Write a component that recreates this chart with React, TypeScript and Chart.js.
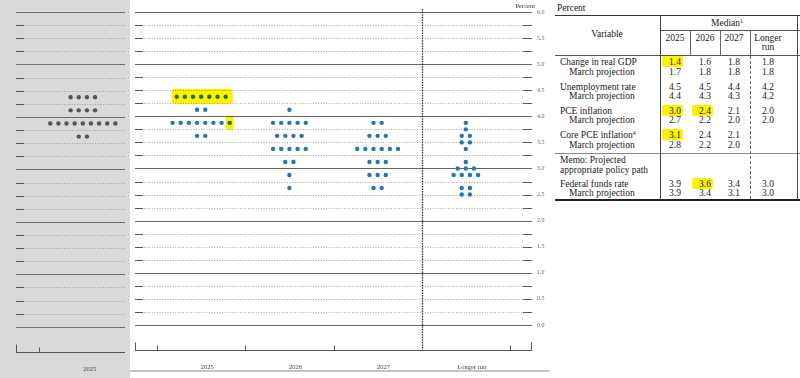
import React, { useEffect, useRef } from 'react';
import { Chart, registerables } from 'chart.js';

Chart.register(...registerables);

// ---------- Dot plot data (midpoint of target range, number of participants) ----------
const categories = ['2025', '2026', '2027', 'Longer run'];
const levels2025 = [4.375, 4.125, 3.875, 3.625];
const counts2025 = [7, 2, 8, 2];
const levels2026 = [4.125, 3.875, 3.625, 3.375, 3.125, 2.875, 2.625];
const counts2026 = [1, 5, 4, 5, 2, 1, 1];
const levels2027 = [3.875, 3.625, 3.375, 3.125, 2.875, 2.625];
const counts2027 = [2, 3, 6, 3, 3, 2];
const levelsLonger = [3.875, 3.75, 3.625, 3.5, 3.375, 3.125, 3.0, 2.875, 2.625, 2.5];
const countsLonger = [1, 1, 2, 2, 1, 1, 3, 4, 2, 2];

// March projection panel (left, greyed)
const marchCategories = ['2025'];
const levelsMarch2025 = [4.375, 4.125, 3.875, 3.625];
const countsMarch2025 = [4, 4, 9, 2];

// Highlighted dots: category, level, first and last dot index in that row
const dotHighlights = [
  { cat: 0, level: 4.375, first: 0, last: 6 },
  { cat: 0, level: 3.875, first: 7, last: 7 },
];

// ---------- Table data ----------
const tableColumns = ['2025', '2026', '2027'];
const gdpMedian = ['1.4', '1.6', '1.8', '1.8'];
const gdpMarch = ['1.7', '1.8', '1.8', '1.8'];
const unempMedian = ['4.5', '4.5', '4.4', '4.2'];
const unempMarch = ['4.4', '4.3', '4.3', '4.2'];
const pceMedian = ['3.0', '2.4', '2.1', '2.0'];
const pceMarch = ['2.7', '2.2', '2.0', '2.0'];
const corePceMedian = ['3.1', '2.4', '2.1', ''];
const corePceMarch = ['2.8', '2.2', '2.0', ''];
const fedMedian = ['3.9', '3.6', '3.4', '3.0'];
const fedMarch = ['3.9', '3.4', '3.1', '3.0'];
const variableNames = ['Change in real GDP', 'Unemployment rate', 'PCE inflation', 'Core PCE inflation', 'Federal funds rate'];
const variableSups = ['', '', '', '4', ''];
const tableHighlights = [
  { row: 0, col: 0 },
  { row: 2, col: 0 },
  { row: 2, col: 1 },
  { row: 3, col: 0 },
  { row: 4, col: 1 },
];

// ---------- style constants ----------
const DOT_SPACING = 0.0926;
const SERIF = '"Liberation Serif", "DejaVu Serif", serif';

type Row = { levels: number[]; counts: number[] };

function dotX(cat: number, n: number, i: number) {
  return cat + 0.5 + (i - (n - 1) / 2) * DOT_SPACING;
}

function buildDots(rows: Row[]) {
  const pts: { x: number; y: number }[] = [];
  rows.forEach((r, cat) => {
    r.levels.forEach((lv, k) => {
      const n = r.counts[k];
      for (let i = 0; i < n; i++) pts.push({ x: dotX(cat, n, i), y: lv });
    });
  });
  return pts;
}

type Cfg = {
  cats: string[];
  rows: Row[];
  color: string;
  xMin: number;
  xMax: number;
  padLeft: number;
  padRight: number;
  axisHeight: number;
  showY: boolean;
  rightDash: boolean;
  rightCap: boolean;
  divider: number | null;
  title: string;
  highlights: typeof dotHighlights;
  solid: string;
  dotted: string;
  dash: string;
  axisColor: string;
  labelOffset: number;
};

function makeConfig(c: Cfg): any {
  const framePlugin = {
    id: 'frame',
    beforeDatasetsDraw(chart: any) {
      const { ctx, chartArea: a, scales } = chart;
      const x = scales.x;
      const y = scales.y;
      const line = (x1: number, y1: number, x2: number, y2: number) => {
        ctx.beginPath();
        ctx.moveTo(x1, y1);
        ctx.lineTo(x2, y2);
        ctx.stroke();
      };
      ctx.save();
      ctx.lineWidth = 1;
      y.ticks.forEach((t: any) => {
        const v = t.value;
        if (v < 0) return;
        const py = Math.round(y.getPixelForValue(v)) + 0.5;
        const isInt = Math.abs(v - Math.round(v)) < 1e-6;
        if (isInt) {
          ctx.setLineDash([]);
          ctx.strokeStyle = c.solid;
          line(a.left, py, a.right, py);
        } else {
          ctx.setLineDash([1, 1.6]);
          ctx.strokeStyle = c.dotted;
          line(a.left + 9, py, a.right - (c.rightDash ? 10 : 0), py);
          ctx.setLineDash([]);
          ctx.strokeStyle = c.dash;
          line(a.left, py, a.left + 8, py);
          if (c.rightDash) line(a.right - 9, py, a.right, py);
        }
      });
      // bottom axis with category boundary ticks
      ctx.setLineDash([]);
      ctx.strokeStyle = c.axisColor;
      const by = Math.round(a.bottom) - 0.5;
      line(a.left, by, a.right, by);
      const lx = Math.round(a.left) + 0.5;
      line(lx, by - 8, lx, by);
      if (c.rightCap) {
        const rx = Math.round(a.right) - 0.5;
        line(rx, by - 8, rx, by);
      }
      for (let i = 0; i <= c.cats.length; i++) {
        if (i < c.xMin || i > c.xMax) continue;
        if (c.divider !== null && i === c.divider) continue;
        const px = Math.round(x.getPixelForValue(i)) + 0.5;
        line(px, by - 5, px, by);
      }
      if (c.divider !== null) {
        const px = Math.round(x.getPixelForValue(c.divider)) + 0.5;
        ctx.strokeStyle = '#333';
        ctx.lineWidth = 1.3;
        ctx.setLineDash([1.6, 1]);
        line(px, a.top - 3, px, by);
      }
      if (c.title) {
        ctx.setLineDash([]);
        ctx.fillStyle = '#333';
        ctx.font = `6.5px ${SERIF}`;
        ctx.textAlign = 'right';
        ctx.textBaseline = 'middle';
        ctx.fillText(c.title, a.right + 3, 6);
      }
      ctx.restore();
    },
    afterDatasetsDraw(chart: any) {
      const { ctx, scales } = chart;
      const x = scales.x;
      const y = scales.y;
      ctx.save();
      ctx.globalCompositeOperation = 'multiply';
      ctx.fillStyle = '#fff200';
      c.highlights.forEach((h) => {
        const r = c.rows[h.cat];
        const n = r.counts[r.levels.indexOf(h.level)];
        const single = h.first === h.last;
        const x1 = x.getPixelForValue(dotX(h.cat, n, h.first)) - (single ? 4 : 5);
        const x2 = x.getPixelForValue(dotX(h.cat, n, h.last)) + (single ? 4 : 7);
        const py = y.getPixelForValue(h.level);
        const top = py - (single ? 7 : 8);
        const bot = py + 7;
        ctx.beginPath();
        if ((ctx as any).roundRect) (ctx as any).roundRect(x1, top, x2 - x1, bot - top, 3);
        else ctx.rect(x1, top, x2 - x1, bot - top);
        ctx.fill();
      });
      ctx.restore();
    },
  };

  return {
    type: 'scatter',
    data: {
      datasets: [
        {
          data: buildDots(c.rows),
          backgroundColor: c.color,
          borderWidth: 0,
          pointRadius: 2.2,
          pointHoverRadius: 2.2,
        },
      ],
    },
    options: {
      animation: false,
      responsive: false,
      maintainAspectRatio: false,
      events: [],
      layout: { padding: { left: c.padLeft, right: c.padRight, top: 12, bottom: 0 } },
      plugins: { legend: { display: false }, tooltip: { enabled: false } },
      scales: {
        x: {
          type: 'linear',
          position: 'bottom',
          min: c.xMin,
          max: c.xMax,
          grid: { display: false, drawTicks: false },
          border: { display: false },
          afterBuildTicks: (s: any) => {
            s.ticks = c.cats.map((_, i) => ({ value: i + 0.5 }));
          },
          afterFit: (s: any) => {
            s.height = c.axisHeight;
          },
          ticks: {
            autoSkip: false,
            maxRotation: 0,
            minRotation: 0,
            padding: 12,
            labelOffset: c.labelOffset,
            color: '#444',
            font: { family: SERIF, size: 6.5 },
            callback: (_v: any, i: number) => c.cats[i],
          },
        },
        y: {
          type: 'linear',
          position: 'right',
          display: c.showY,
          min: -0.5,
          max: 6,
          grid: { display: false, drawTicks: false },
          border: { display: false },
          afterFit: (s: any) => {
            s.width = c.showY ? 18 : 0;
          },
          ticks: {
            stepSize: 0.25,
            autoSkip: false,
            padding: 5,
            color: '#666',
            font: { family: SERIF, size: 6 },
            callback: (v: number) => (v >= 0 && Math.abs(v * 2 - Math.round(v * 2)) < 1e-6 ? v.toFixed(1) : ''),
          },
        },
      },
    },
    plugins: [framePlugin],
  };
}

const tableMedians = [gdpMedian, unempMedian, pceMedian, corePceMedian, fedMedian];
const tableMarches = [gdpMarch, unempMarch, pceMarch, corePceMarch, fedMarch];

export default function App() {
  const mainRef = useRef<HTMLCanvasElement>(null);
  const prevRef = useRef<HTMLCanvasElement>(null);

  useEffect(() => {
    const main = new Chart(
      mainRef.current as HTMLCanvasElement,
      makeConfig({
        cats: categories,
        rows: [
          { levels: levels2025, counts: counts2025 },
          { levels: levels2026, counts: counts2026 },
          { levels: levels2027, counts: counts2027 },
          { levels: levelsLonger, counts: countsLonger },
        ],
        color: '#1f78b4',
        xMin: -0.25,
        xMax: 4.25,
        padLeft: 5,
        padRight: 0,
        axisHeight: 27,
        showY: true,
        rightDash: true,
        rightCap: true,
        divider: 3,
        title: 'Percent',
        highlights: dotHighlights,
        solid: '#666',
        dotted: '#a8a8a8',
        dash: '#555',
        axisColor: '#555',
        labelOffset: 6,
      })
    );
    const prev = new Chart(
      prevRef.current as HTMLCanvasElement,
      makeConfig({
        cats: marchCategories,
        rows: [{ levels: levelsMarch2025, counts: countsMarch2025 }],
        color: '#555',
        xMin: -0.26,
        xMax: 0.98,
        padLeft: 16,
        padRight: 5,
        axisHeight: 25,
        showY: false,
        rightDash: false,
        rightCap: false,
        divider: null,
        title: '',
        highlights: [],
        solid: '#707070',
        dotted: '#a0a0a0',
        dash: '#555',
        axisColor: '#555',
        labelOffset: 7,
      })
    );
    return () => {
      main.destroy();
      prev.destroy();
    };
  }, []);

  // table layout (page coordinates)
  const colX = [675, 705, 734, 768];
  const rowY = [
    [61.5, 71.5],
    [86.5, 96],
    [111, 120],
    [135, 145],
    [184, 193],
  ];
  const txt: React.CSSProperties = {
    position: 'absolute',
    fontFamily: SERIF,
    fontSize: 9.5,
    lineHeight: '10px',
    color: '#1a1a1a',
    whiteSpace: 'nowrap',
  };
  const center = (x: number, y: number): React.CSSProperties => ({
    ...txt,
    left: x,
    top: y - 5,
    transform: 'translateX(-50%)',
  });
  const hline = (x: number, y: number, w: number, h = 1, col = '#333'): React.CSSProperties => ({
    position: 'absolute',
    left: x,
    top: y,
    width: w,
    height: h,
    background: col,
  });
  const vline = (x: number, y: number, h: number, col = '#444'): React.CSSProperties => ({
    position: 'absolute',
    left: x,
    top: y,
    width: 1,
    height: h,
    background: col,
  });

  return (
    <div style={{ position: 'absolute', left: 0, top: 0, width: 800, height: 378, background: '#fff', overflow: 'hidden' }}>
      <canvas
        ref={prevRef}
        width={130}
        height={378}
        style={{ position: 'absolute', left: 0, top: 0, width: 130, height: 378, background: '#d9d9d9' }}
      />
      <canvas
        ref={mainRef}
        width={420}
        height={378}
        style={{ position: 'absolute', left: 130, top: 0, width: 420, height: 378 }}
      />
      <div style={hline(130, 370, 420, 2, '#c4c4c4')} />

      {/* table */}
      <div style={{ ...txt, left: 557, top: 3 }}>Percent</div>
      <div style={hline(555, 15, 245)} />
      <div style={hline(660, 30, 140, 1, '#555')} />
      <div style={hline(555, 55, 245, 1, '#555')} />
      <div style={hline(555, 153, 245, 1, '#888')} />
      <div style={hline(555, 199, 245, 1.5, '#222')} />
      <div style={vline(660, 15, 185)} />
      <div style={vline(797, 15, 185)} />
      <div style={vline(690, 30, 25, '#666')} />
      <div style={vline(720, 30, 25, '#666')} />
      <div style={vline(750, 30, 25, '#666')} />
      <div style={{ position: 'absolute', left: 750, top: 56, width: 0, height: 143, borderLeft: '1px dashed #666' }} />

      <div style={center(607, 34)}>Variable</div>
      <div style={center(727, 23)}>
        Median<sup style={{ fontSize: 6, verticalAlign: 'top', position: 'relative', top: -2 }}>1</sup>
      </div>
      {tableColumns.map((c, i) => (
        <div key={c} style={center(colX[i], 37.5)}>{c}</div>
      ))}
      <div style={center(colX[3], 37.5)}>Longer</div>
      <div style={center(colX[3], 47)}>run</div>

      {variableNames.map((name, r) => (
        <React.Fragment key={name}>
          <div style={{ ...txt, left: 560, top: rowY[r][0] - 5 }}>
            {name}
            {variableSups[r] ? (
              <sup style={{ fontSize: 6, verticalAlign: 'top', position: 'relative', top: -2 }}>{variableSups[r]}</sup>
            ) : null}
          </div>
          <div style={{ ...txt, left: 569, top: rowY[r][1] - 5 }}>March projection</div>
          {tableMedians[r].map((v, i) => (
            <div key={'m' + i} style={center(colX[i], rowY[r][0])}>{v}</div>
          ))}
          {tableMarches[r].map((v, i) => (
            <div key={'p' + i} style={center(colX[i], rowY[r][1])}>{v}</div>
          ))}
        </React.Fragment>
      ))}
      <div style={{ ...txt, left: 560, top: 155 }}>Memo: Projected</div>
      <div style={{ ...txt, left: 560, top: 165 }}>appropriate policy path</div>

      {tableHighlights.map((h, k) => (
        <div
          key={k}
          style={{
            position: 'absolute',
            left: colX[h.col] - 13,
            top: rowY[h.row][0] - 6,
            width: 21,
            height: 11,
            borderRadius: 2,
            background: '#fff200',
            mixBlendMode: 'multiply',
          }}
        />
      ))}
    </div>
  );
}
